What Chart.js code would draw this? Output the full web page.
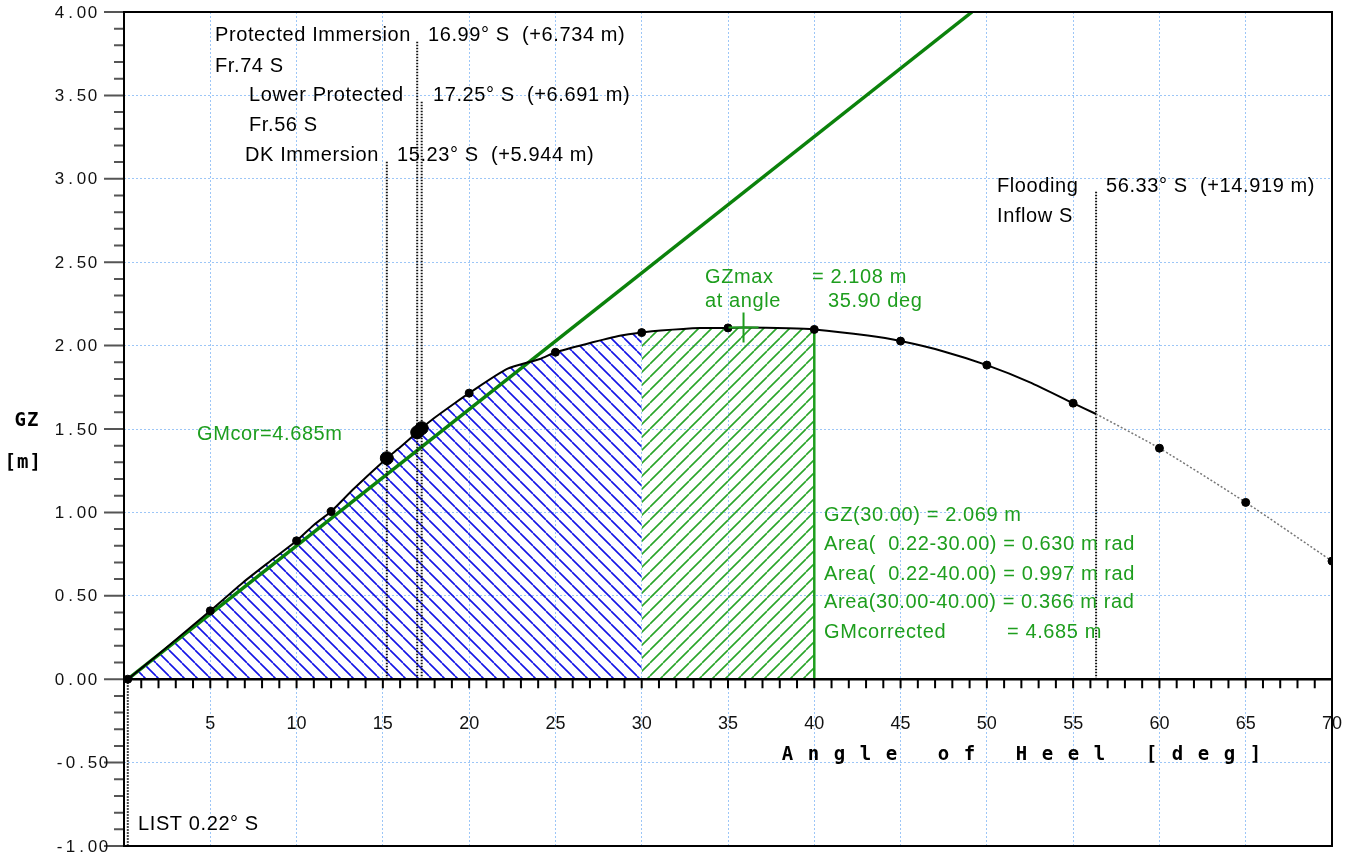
<!DOCTYPE html>
<html lang="en">
  <head>
    <meta charset="UTF-8" />
    <title>GZ Curve</title>
    <script src="https://cdn.jsdelivr.net/npm/chart.js"></script>
    <style>
      body {
        margin: 0;
        background: #ffffff;
      }
      #wrap {
        width: 1347px;
        height: 858px;
      }
    </style>
  </head>
  <body>
    <div id="wrap"><canvas id="gzChart"></canvas></div>

    <script>
      // GZ curve (angle of heel in deg, GZ in m)
      const gzAngles = [0.22, 2, 5, 6.9, 8.5, 10, 11, 12, 13.3, 15.23, 16, 16.99, 17.25, 17.9, 19.1, 20, 22.2, 24.1, 25, 26.8, 28.8, 30, 31.1, 33.4, 35, 35.9, 38.5, 40, 43.1, 45, 47.5, 50, 52.5, 55, 56.33, 60, 65, 70];
      const gzValues = [0, 0.15, 0.41, 0.58, 0.71, 0.83, 0.925, 1.005, 1.14, 1.325, 1.39, 1.48, 1.505, 1.56, 1.65, 1.715, 1.86, 1.92, 1.96, 2.01, 2.06, 2.078, 2.09, 2.105, 2.106, 2.108, 2.104, 2.097, 2.06, 2.027, 1.965, 1.883, 1.78, 1.655, 1.59, 1.385, 1.06, 0.708];

      // calculated points shown as dots
      const dotAngles = [0.22, 5, 10, 12, 20, 25, 30, 35, 40, 45, 50, 55, 60, 65, 70];
      const bigDotAngles = [15.23, 16.99, 17.25];

      // GM line (corrected GM = 4.685 m)
      const gmX = [0.22, 49.14];
      const gmY = [0, 4.0];

      // immersion / flooding marks: angle and top of the dotted line
      const markAngles = [16.99, 17.25, 15.23, 56.33];
      const markTops = [3.83, 3.47, 3.11, 2.93];
      const listAngle = 0.22;
      const floodAngle = 56.33;

      // area limits
      const areaStart = 0.22;
      const areaMid = 30;
      const areaEnd = 40;

      const gzMaxAngle = 35.9;
      const gzMaxValue = 2.108;

      const xTickLabels = [5, 10, 15, 20, 25, 30, 35, 40, 45, 50, 55, 60, 65, 70];
      const yTickLabels = [-1, -0.5, 0, 0.5, 1, 1.5, 2, 2.5, 3, 3.5, 4];

      const GREEN_LINE = "#0b820b";
      const GREEN_TEXT = "#1e9e1e";
      const GREEN_HATCH = "#2aa52a";
      const BLUE_HATCH = "#1414e6";
      const GRID = "#9cc6f7";

      const pairs = gzAngles.map((a, i) => ({ x: a, y: gzValues[i] }));
      const valueAt = (a) => gzValues[gzAngles.indexOf(a)];

      function hatch(color, dir) {
        const p = 13;
        const c = document.createElement("canvas");
        c.width = p;
        c.height = p;
        const g = c.getContext("2d");
        g.strokeStyle = color;
        g.lineWidth = 1.6;
        g.beginPath();
        [-p, 0, p].forEach((k) => {
          if (dir === "back") {
            g.moveTo(k, 0);
            g.lineTo(k + p, p);
          } else {
            g.moveTo(k, p);
            g.lineTo(k + p, 0);
          }
        });
        g.stroke();
        return g.createPattern(c, "repeat");
      }

      function cells(ctx, text, left, y, cell) {
        ctx.textAlign = "center";
        for (let i = 0; i < text.length; i++) {
          ctx.fillText(text[i], left + cell * i + cell / 2, y);
        }
      }

      const decor = {
        id: "decor",
        afterDatasetsDraw(chart) {
          const { ctx, scales } = chart;
          const x = scales.x;
          const y = scales.y;
          const a = chart.chartArea;
          const y0 = y.getPixelForValue(0);
          ctx.save();

          // x axis at GZ = 0
          ctx.strokeStyle = "#000";
          ctx.lineWidth = 2.5;
          ctx.beginPath();
          ctx.moveTo(a.left, y0);
          ctx.lineTo(a.right, y0);
          ctx.stroke();

          // x ticks every degree
          ctx.lineWidth = 2;
          ctx.beginPath();
          for (let d = 1; d < 70; d++) {
            const px = x.getPixelForValue(d);
            ctx.moveTo(px, y0);
            ctx.lineTo(px, y0 + 9);
          }
          ctx.stroke();

          // y ticks every 0.1 m
          ctx.strokeStyle = "#555";
          ctx.beginPath();
          for (let i = -10; i <= 40; i++) {
            const py = y.getPixelForValue(i / 10);
            ctx.moveTo(a.left - (i % 5 === 0 ? 20 : 10), py);
            ctx.lineTo(a.left, py);
          }
          ctx.stroke();

          // tick labels
          ctx.fillStyle = "#111";
          ctx.font = '18px "Liberation Sans"';
          ctx.textAlign = "center";
          ctx.textBaseline = "alphabetic";
          xTickLabels.forEach((v) => {
            ctx.fillText(String(v), x.getPixelForValue(v), y0 + 50);
          });

          ctx.font = '17px "Liberation Sans"';
          ctx.textBaseline = "middle";
          yTickLabels.forEach((v) => {
            cells(ctx, v.toFixed(2), 54, y.getPixelForValue(v) + 1, 11);
          });

          // axis titles
          ctx.fillStyle = "#000";
          ctx.font = 'bold 19px "DejaVu Sans Mono"';
          cells(ctx, "GZ", 14, 421, 12.5);
          cells(ctx, "[m]", 4, 463, 12.5);
          ctx.textBaseline = "alphabetic";
          cells(ctx, "A n g l e   o f   H e e l   [ d e g ]", 781, 760, 13);

          // annotations
          ctx.textAlign = "left";
          ctx.font = '20px "Liberation Sans"';
          ctx.letterSpacing = "0.6px";
          ctx.fillStyle = "#000";
          ctx.fillText("Protected Immersion", 215, 41);
          ctx.fillText("16.99° S  (+6.734 m)", 428, 41);
          ctx.fillText("Fr.74 S", 215, 72);
          ctx.fillText("Lower Protected", 249, 101);
          ctx.fillText("17.25° S  (+6.691 m)", 433, 101);
          ctx.fillText("Fr.56 S", 249, 131);
          ctx.fillText("DK Immersion", 245, 161);
          ctx.fillText("15.23° S  (+5.944 m)", 397, 161);
          ctx.fillText("Flooding", 997, 192);
          ctx.fillText("56.33° S  (+14.919 m)", 1106, 192);
          ctx.fillText("Inflow S", 997, 222);
          ctx.fillText("LIST 0.22° S", 138, 830);

          ctx.fillStyle = GREEN_TEXT;
          ctx.fillText("GZmax", 705, 283);
          ctx.fillText("= 2.108 m", 812, 283);
          ctx.fillText("at angle", 705, 307);
          ctx.fillText("35.90 deg", 828, 307);
          ctx.fillText("GMcor=4.685m", 197, 440);
          ctx.fillText("GZ(30.00) = 2.069 m", 824, 521);
          ctx.fillText("Area(  0.22-30.00) = 0.630 m rad", 824, 550);
          ctx.fillText("Area(  0.22-40.00) = 0.997 m rad", 824, 580);
          ctx.fillText("Area(30.00-40.00) = 0.366 m rad", 824, 608);
          ctx.fillText("GMcorrected", 824, 638);
          ctx.fillText("= 4.685 m", 1007, 638);
          ctx.letterSpacing = "0px";
          ctx.restore();
        },
        afterDraw(chart) {
          const { ctx } = chart;
          const a = chart.chartArea;
          ctx.save();
          ctx.strokeStyle = "#000";
          ctx.lineWidth = 2;
          ctx.strokeRect(a.left, a.top, a.right - a.left, a.bottom - a.top);
          ctx.restore();
        },
      };

      const dotted = (pts) => ({
        data: pts,
        borderColor: "#111",
        borderWidth: 2,
        borderDash: [1.5, 1.5],
        pointRadius: 0,
        fill: false,
        order: 4,
      });

      const datasets = [
        {
          data: pairs.filter((p) => p.x >= areaStart && p.x <= areaMid),
          borderWidth: 0,
          borderColor: "transparent",
          backgroundColor: hatch(BLUE_HATCH, "back"),
          fill: "origin",
          pointRadius: 0,
          tension: 0.2,
          order: 10,
        },
        {
          data: pairs.filter((p) => p.x >= areaMid && p.x <= areaEnd),
          borderWidth: 0,
          borderColor: "transparent",
          backgroundColor: hatch(GREEN_HATCH, "fwd"),
          fill: "origin",
          pointRadius: 0,
          tension: 0.2,
          order: 9,
        },
        {
          data: [
            { x: areaEnd, y: 0 },
            { x: areaEnd, y: valueAt(areaEnd) },
          ],
          borderColor: GREEN_TEXT,
          borderWidth: 2.5,
          pointRadius: 0,
          order: 8,
        },
        {
          data: gmX.map((v, i) => ({ x: v, y: gmY[i] })),
          borderColor: GREEN_LINE,
          borderWidth: 3.5,
          pointRadius: 0,
          order: 5,
        },
        {
          data: pairs.filter((p) => p.x <= floodAngle),
          borderColor: "#000",
          borderWidth: 2,
          pointRadius: 0,
          tension: 0.2,
          order: 3,
        },
        {
          data: pairs.filter((p) => p.x >= floodAngle),
          borderColor: "#777",
          borderWidth: 1.5,
          borderDash: [2, 2],
          pointRadius: 0,
          tension: 0.2,
          order: 3,
        },
        ...markAngles.map((m, i) =>
          dotted([
            { x: m, y: 0 },
            { x: m, y: markTops[i] },
          ])
        ),
        dotted([
          { x: listAngle, y: 0 },
          { x: listAngle, y: -1 },
        ]),
        {
          data: dotAngles.map((d) => ({ x: d, y: valueAt(d) })),
          showLine: false,
          pointRadius: 4,
          pointBackgroundColor: "#000",
          pointBorderColor: "#000",
          order: 1,
        },
        {
          data: bigDotAngles.map((d) => ({ x: d, y: valueAt(d) })),
          showLine: false,
          pointRadius: 6.5,
          pointBackgroundColor: "#000",
          pointBorderColor: "#000",
          order: 1,
        },
        {
          data: [{ x: gzMaxAngle, y: gzMaxValue }],
          showLine: false,
          pointStyle: "cross",
          pointRadius: 15,
          pointBorderColor: GREEN_TEXT,
          pointBorderWidth: 2,
          order: 0,
        },
      ];

      new Chart(document.getElementById("gzChart"), {
        type: "line",
        data: { datasets },
        plugins: [decor],
        options: {
          responsive: true,
          maintainAspectRatio: false,
          animation: false,
          layout: {
            autoPadding: false,
            padding: { left: 124, right: 15, top: 12, bottom: 12 },
          },
          plugins: {
            legend: { display: false },
            tooltip: { enabled: false },
          },
          scales: {
            x: {
              type: "linear",
              min: 0,
              max: 70,
              ticks: { display: false, stepSize: 5 },
              grid: { color: GRID, lineWidth: 1, drawTicks: false },
              border: { display: false, dash: [2, 2] },
            },
            y: {
              type: "linear",
              min: -1,
              max: 4,
              ticks: { display: false, stepSize: 0.5 },
              grid: { color: GRID, lineWidth: 1, drawTicks: false },
              border: { display: false, dash: [2, 2] },
            },
          },
        },
      });
    </script>
  </body>
</html>
